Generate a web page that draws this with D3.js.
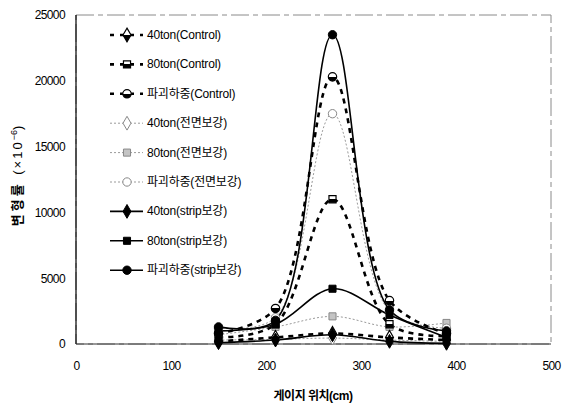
<!DOCTYPE html>
<html>
<head>
<meta charset="utf-8">
<script src="https://cdn.jsdelivr.net/npm/d3@7"></script>
<style>
  body { margin: 0; background: #fff; }
  text { font-family: "Liberation Sans", Arial, "Noto Sans CJK KR", sans-serif; }
</style>
</head>
<body>
<svg></svg>
<script>
const width = 569
const height = 405

// gauge positions (cm) and strain values (x10^-6)
const gaugePos = [150, 210, 270, 330, 390]
const xTicks = [0, 100, 200, 300, 400, 500]
const yTicks = [0, 5000, 10000, 15000, 20000, 25000]

const control40 = [200, 500, 800, 500, 300]
const control80 = [500, 1500, 11000, 1500, 600]
const controlFail = [800, 2700, 20300, 3300, 800]
const full40 = [300, 350, 450, 300, 200]
const full80 = [700, 1300, 2100, 1300, 1600]
const fullFail = [1200, 2000, 17500, 2500, 1200]
const strip40 = [100, 300, 700, 200, 50]
const strip80 = [1000, 1500, 4200, 2200, 500]
const stripFail = [1300, 1800, 23500, 2600, 1000]

const seriesNames = [
  '40ton(Control)', '80ton(Control)', '파괴하중(Control)',
  '40ton(전면보강)', '80ton(전면보강)', '파괴하중(전면보강)',
  '40ton(strip보강)', '80ton(strip보강)', '파괴하중(strip보강)'
]
const seriesValues = [control40, control80, controlFail, full40, full80, fullFail, strip40, strip80, stripFail]
const seriesGroup = ['control', 'control', 'control', 'full', 'full', 'full', 'strip', 'strip', 'strip']
const seriesShape = ['diamond', 'square', 'circle', 'diamond', 'square', 'circle', 'diamond', 'square', 'circle']

const margin = {left: 76, right: 18, top: 15, bottom: 61}

const svg = d3.select('svg').attr('width', width).attr('height', height)

const x = d3.scaleLinear().domain([0, 500]).range([margin.left, width - margin.right])
const y = d3.scaleLinear().domain([0, 25000]).range([height - margin.bottom, margin.top])

// half filled marker for Control series
const defs = svg.append('defs')
const grad = defs.append('linearGradient').attr('id', 'half').attr('x1', 0).attr('y1', 0).attr('x2', 0).attr('y2', 1)
grad.append('stop').attr('offset', '50%').attr('stop-color', '#fff')
grad.append('stop').attr('offset', '50%').attr('stop-color', '#000')

const lineStyle = {
  control: {stroke: '#000', width: 2.6, dash: '5,5'},
  full: {stroke: '#9a9a9a', width: 1, dash: '2,2'},
  strip: {stroke: '#000', width: 1.6, dash: null}
}
const markerStyle = {
  control: {fill: 'url(#half)', stroke: '#000', width: 1.2},
  full: {fill: '#fff', stroke: '#888', width: 1},
  strip: {fill: '#000', stroke: '#000', width: 1}
}
const symbols = {diamond: d3.symbolDiamond, square: d3.symbolSquare, circle: d3.symbolCircle}
const symbolSize = {diamond: 55, square: 50, circle: 55}

// plot frame
svg.append('rect')
  .attr('x', x(0)).attr('y', y(25000))
  .attr('width', x(500) - x(0)).attr('height', y(0) - y(25000))
  .attr('fill', 'none').attr('stroke', '#8a8a8a').attr('stroke-width', 1)
  .attr('stroke-dasharray', '18,4,5,4')

svg.append('line')
  .attr('x1', x(0)).attr('x2', x(0)).attr('y1', y(0)).attr('y2', y(25000))
  .attr('stroke', '#000').attr('stroke-width', 1.2)
svg.append('line')
  .attr('x1', x(0)).attr('x2', x(500)).attr('y1', y(0)).attr('y2', y(0))
  .attr('stroke', '#333').attr('stroke-width', 1)

// axes (labels only, no tick marks)
const xAxis = svg.append('g')
  .attr('transform', `translate(0,${y(0) + 14})`)
  .call(d3.axisBottom(x).tickValues(xTicks).tickSize(0).tickFormat(d3.format('d')))
xAxis.select('.domain').remove()
xAxis.selectAll('text').attr('font-size', 12).attr('fill', '#000').attr('letter-spacing', -0.6)

const yAxis = svg.append('g')
  .attr('transform', `translate(${x(0) - 8},0)`)
  .call(d3.axisLeft(y).tickValues(yTicks).tickSize(0).tickFormat(d3.format('d')))
yAxis.select('.domain').remove()
yAxis.selectAll('text').attr('font-size', 12).attr('fill', '#000').attr('letter-spacing', -0.6)

// series
const line = d3.line()
  .x((d, i) => x(gaugePos[i]))
  .y(d => y(d))
  .curve(d3.curveCatmullRom.alpha(0.5))

const drawOrder = [3, 4, 5, 0, 1, 2, 6, 7, 8]
drawOrder.forEach(k => {
  const ls = lineStyle[seriesGroup[k]]
  svg.append('path')
    .datum(seriesValues[k])
    .attr('d', line)
    .attr('fill', 'none')
    .attr('stroke', ls.stroke)
    .attr('stroke-width', ls.width)
    .attr('stroke-dasharray', ls.dash)
})
drawOrder.forEach(k => {
  const ms = markerStyle[seriesGroup[k]]
  const shape = seriesShape[k]
  svg.append('g').selectAll('path')
    .data(seriesValues[k])
    .join('path')
    .attr('transform', (d, i) => `translate(${x(gaugePos[i])},${y(d)})`)
    .attr('d', d3.symbol().type(symbols[shape]).size(symbolSize[shape]))
    .attr('fill', k === 4 ? '#c4c4c4' : ms.fill)
    .attr('stroke', ms.stroke)
    .attr('stroke-width', ms.width)
})

// legend
const legend = svg.append('g')
seriesNames.forEach((name, k) => {
  const ly = 35 + k * 29.4
  const ls = lineStyle[seriesGroup[k]]
  const ms = markerStyle[seriesGroup[k]]
  const shape = seriesShape[k]
  legend.append('line')
    .attr('x1', 110).attr('x2', 143).attr('y1', ly).attr('y2', ly)
    .attr('stroke', ls.stroke).attr('stroke-width', ls.width)
    .attr('stroke-dasharray', ls.dash ? (seriesGroup[k] === 'control' ? '4,6' : ls.dash) : null)
  legend.append('path')
    .attr('transform', `translate(127,${ly})`)
    .attr('d', d3.symbol().type(symbols[shape]).size(symbolSize[shape]))
    .attr('fill', k === 4 ? '#c4c4c4' : ms.fill)
    .attr('stroke', ms.stroke).attr('stroke-width', ms.width)
  legend.append('text')
    .attr('x', 147).attr('y', ly + 4)
    .attr('font-size', 12).attr('letter-spacing', -0.2)
    .text(name)
})

// axis titles
svg.append('text')
  .attr('x', 313).attr('y', 400)
  .attr('text-anchor', 'middle')
  .attr('font-size', 12).attr('font-weight', 'bold').attr('letter-spacing', -0.5)
  .text('게이지 위치(cm)')

const yTitle = svg.append('text')
  .attr('transform', 'translate(22,176) rotate(-90)')
  .attr('text-anchor', 'middle')
  .attr('font-size', 13)
yTitle.append('tspan').attr('font-weight', 'bold').attr('letter-spacing', 3).text('변형률 ')
yTitle.append('tspan').attr('letter-spacing', 2).text('(×10')
yTitle.append('tspan').attr('font-size', 9).attr('dy', -5).text('−6')
yTitle.append('tspan').attr('dy', 5).text(')')
</script>
</body>
</html>
